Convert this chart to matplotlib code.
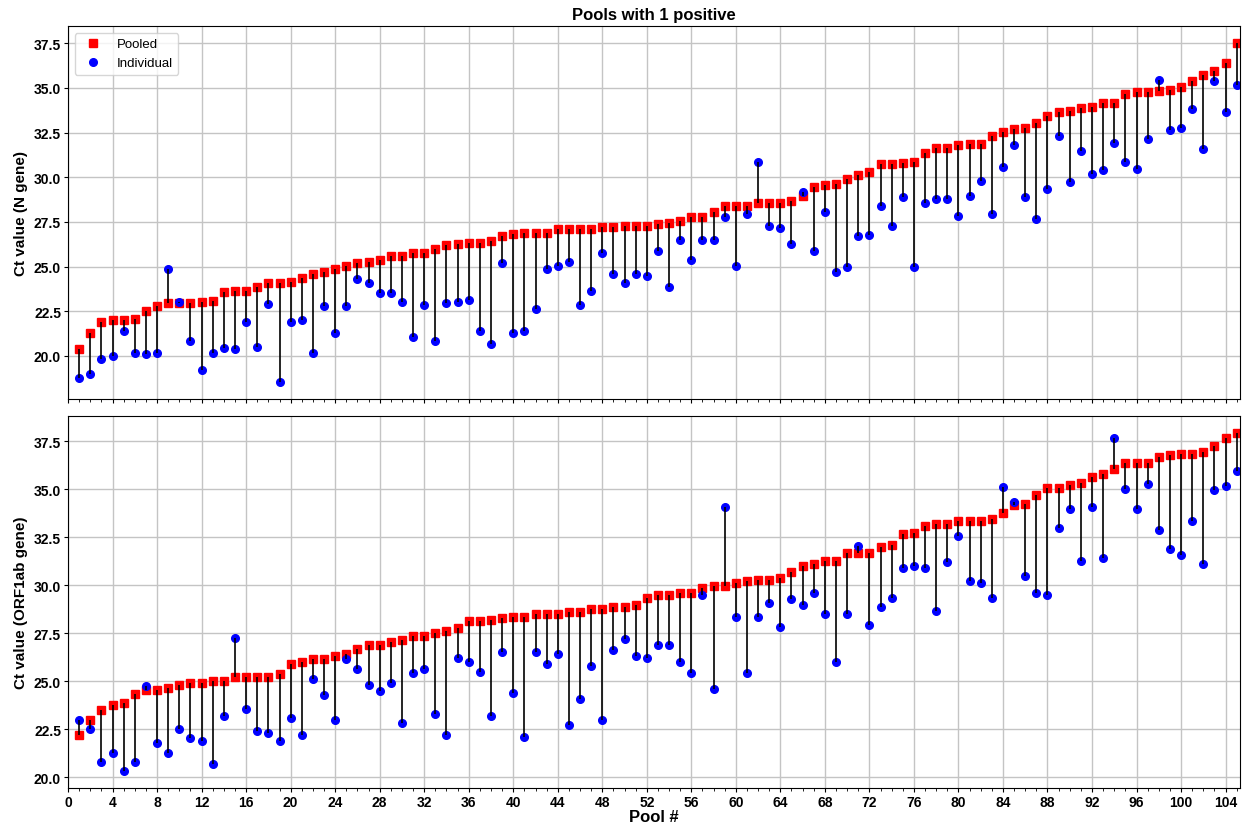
import numpy as np
import matplotlib
matplotlib.use('Agg')
import matplotlib.pyplot as plt
from matplotlib.ticker import MultipleLocator

# Ct values, pools sorted by pooled Ct (N gene)
n_pooled = [20.41, 21.27, 21.90, 22.00, 22.00, 22.05, 22.54, 22.80, 22.99, 22.99,
            22.99, 23.00, 23.10, 23.57, 23.66, 23.66, 23.85, 24.07, 24.07, 24.16,
            24.35, 24.60, 24.72, 24.87, 25.04, 25.19, 25.28, 25.36, 25.57, 25.57,
            25.79, 25.79, 25.98, 26.22, 26.27, 26.35, 26.35, 26.46, 26.69, 26.82,
            26.87, 26.87, 26.87, 27.10, 27.10, 27.10, 27.10, 27.19, 27.19, 27.25,
            27.25, 27.25, 27.38, 27.43, 27.58, 27.79, 27.79, 28.03, 28.40, 28.40,
            28.40, 28.55, 28.55, 28.55, 28.68, 28.96, 29.45, 29.56, 29.64, 29.90,
            30.10, 30.29, 30.72, 30.72, 30.79, 30.87, 31.35, 31.62, 31.62, 31.80,
            31.86, 31.86, 32.29, 32.55, 32.70, 32.77, 33.02, 33.41, 33.65, 33.73,
            33.87, 33.93, 34.15, 34.15, 34.66, 34.77, 34.77, 34.80, 34.88, 35.05,
            35.37, 35.72, 35.97, 36.40, 37.50]
n_indiv = [18.79, 18.99, 19.83, 20.02, 21.40, 20.19, 20.11, 20.19, 24.86, 23.04,
           20.86, 19.20, 20.19, 20.43, 20.39, 21.90, 20.52, 22.93, 18.56, 21.90,
           22.00, 20.19, 22.78, 21.27, 22.78, 24.30, 24.09, 23.55, 23.55, 23.00,
           21.05, 22.88, 20.86, 22.95, 23.03, 23.14, 21.40, 20.65, 25.19, 21.27,
           21.40, 22.61, 24.86, 25.06, 25.25, 22.88, 23.66, 25.79, 24.60, 24.09,
           24.60, 24.48, 25.88, 23.87, 26.50, 25.36, 26.50, 26.50, 27.79, 25.06,
           27.97, 30.87, 27.28, 27.17, 26.29, 29.15, 25.86, 28.07, 24.69, 24.97,
           26.69, 26.76, 28.37, 27.28, 28.89, 24.97, 28.55, 28.78, 28.78, 27.86,
           28.98, 29.80, 27.94, 30.59, 31.78, 28.89, 27.66, 29.36, 32.29, 29.71,
           31.48, 30.20, 30.38, 31.93, 30.85, 30.48, 32.16, 35.42, 32.66, 32.75,
           33.84, 31.60, 35.39, 33.63, 35.16]

# ORF1ab gene
orf_pooled = [22.20, 22.99, 23.48, 23.77, 23.88, 24.33, 24.52, 24.52, 24.63, 24.82,
              24.91, 24.91, 25.03, 25.03, 25.22, 25.22, 25.22, 25.22, 25.38, 25.87,
              25.99, 26.13, 26.18, 26.30, 26.39, 26.69, 26.90, 26.90, 27.04, 27.13,
              27.35, 27.35, 27.49, 27.63, 27.79, 28.12, 28.12, 28.21, 28.31, 28.35,
              28.35, 28.49, 28.49, 28.49, 28.61, 28.61, 28.75, 28.75, 28.87, 28.87,
              28.99, 29.36, 29.48, 29.48, 29.59, 29.59, 29.85, 29.97, 29.97, 30.11,
              30.23, 30.29, 30.29, 30.36, 30.67, 30.98, 31.11, 31.28, 31.28, 31.68,
              31.68, 31.68, 32.00, 32.10, 32.68, 32.73, 33.08, 33.19, 33.19, 33.33,
              33.33, 33.33, 33.47, 33.74, 34.20, 34.25, 34.69, 35.07, 35.07, 35.21,
              35.35, 35.65, 35.82, 36.05, 36.35, 36.35, 36.35, 36.66, 36.78, 36.84,
              36.84, 36.96, 37.27, 37.69, 37.95]
orf_indiv = [22.99, 22.53, 20.79, 21.27, 20.31, 20.79, 24.73, 21.80, 21.27, 22.53,
             22.03, 21.90, 20.68, 23.18, 27.27, 23.56, 22.41, 22.31, 21.90, 23.07,
             22.20, 25.13, 24.26, 22.99, 26.13, 25.61, 24.82, 24.51, 24.91, 22.81,
             25.40, 25.61, 23.28, 22.20, 26.20, 25.99, 25.48, 23.18, 26.51, 24.40,
             22.11, 26.51, 25.87, 26.41, 22.71, 24.09, 25.78, 22.99, 26.62, 27.18,
             26.29, 26.20, 26.90, 26.90, 25.99, 25.40, 29.48, 24.59, 34.06, 28.37,
             25.40, 28.37, 29.10, 27.81, 29.27, 28.99, 29.59, 28.49, 25.99, 28.49,
             32.07, 27.91, 28.89, 29.36, 30.88, 30.98, 30.88, 28.68, 31.19, 32.59,
             30.20, 30.11, 29.36, 35.12, 34.34, 30.48, 29.61, 29.48, 32.98, 33.97,
             31.28, 34.06, 31.40, 37.69, 35.00, 33.97, 35.30, 32.87, 31.89, 31.60,
             33.36, 31.09, 34.98, 35.19, 35.94]

pools = np.arange(1, len(n_pooled) + 1)

plt.rcParams.update({
    'font.family': ['Liberation Sans', 'DejaVu Sans'],
    'font.size': 10,
    'font.weight': 'bold',
})

fig, axes = plt.subplots(2, 1, figsize=(12.44, 8.28), dpi=100, sharex=True)
fig.subplots_adjust(left=0.0547, right=0.9968, top=0.967, bottom=0.047, hspace=0.046)

panels = [(n_pooled, n_indiv, 'Ct value (N gene)'),
          (orf_pooled, orf_indiv, 'Ct value (ORF1ab gene)')]

for ax, (pooled, indiv, ylab) in zip(axes, panels):
    ax.grid(True, color='#c4c4c4', linewidth=1.0, zorder=0)
    ax.plot(pools, pooled, 's', color='red', markersize=5.5, label='Pooled', zorder=2)
    ax.plot(pools, indiv, 'o', color='blue', markersize=5.5, label='Individual', zorder=2)
    ax.vlines(pools, pooled, indiv, color='black', linewidth=1.2, zorder=3)
    ax.set_ylabel(ylab, fontsize=11, fontweight='bold')
    ax.xaxis.set_major_locator(MultipleLocator(4))
    ax.xaxis.set_minor_locator(MultipleLocator(1))
    ax.tick_params(which='major', length=3, pad=2)
    ax.tick_params(which='minor', length=2)
    ax.set_axisbelow(True)

axes[0].set_xlim(0, 105.3)
axes[0].set_title('Pools with 1 positive', fontsize=12, fontweight='bold', pad=5)
axes[0].legend(loc='upper left', prop={'weight': 'normal', 'size': 9.5})
axes[1].set_xlabel('Pool #', fontsize=12, fontweight='bold', labelpad=0)

plt.savefig('out.png', dpi=100)
